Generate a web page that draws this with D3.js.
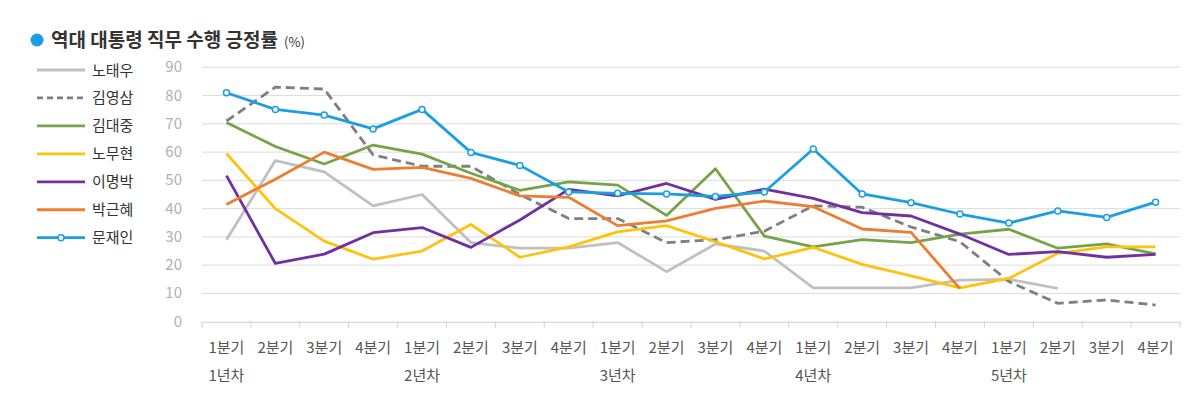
<!DOCTYPE html>
<html><head><meta charset="utf-8">
<script src="https://cdn.jsdelivr.net/npm/d3@7"></script>
<style>
body{margin:0;background:#fff;}
svg{display:block;font-family:"Noto Sans CJK KR","Noto Sans",sans-serif;}
</style></head>
<body><svg id="c" width="1200" height="406"></svg>
<script>
const quarters = ["1분기","2분기","3분기","4분기","1분기","2분기","3분기","4분기","1분기","2분기","3분기","4분기","1분기","2분기","3분기","4분기","1분기","2분기","3분기","4분기"];
const years = ["1년차","2년차","3년차","4년차","5년차"];
const yTicks = [0,10,20,30,40,50,60,70,80,90];
const names = ["노태우","김영삼","김대중","노무현","이명박","박근혜","문재인"];
const roh = [29,57,53,41,45,28,26,26,28,17.7,27.5,25,12,12,12,14.7,15,11.8];
const kimys = [71,83,82.3,59,55,55,45,36.5,36.5,28,29,32,41,40.5,33.5,28.3,14.2,6.5,7.7,5.9];
const kimdj = [70.5,62,55.8,62.5,59.3,52.5,46.5,49.5,48.3,37.6,54.1,30.3,26.5,29,28,31,32.7,26,27.5,24];
const rohmh = [59.5,40,28.5,22.1,25,34.4,22.8,26.5,31.8,34,28.3,22.2,26.3,20.3,16.2,12,15.3,24.2,26.5,26.5];
const leemb = [51.7,20.6,23.9,31.5,33.3,26.3,36,46.8,44.5,48.9,43.3,46.9,43.6,38.6,37.4,31,23.8,24.8,22.8,23.8];
const parkgh = [41.5,50.4,60,53.9,54.6,50.7,44.5,44,34,35.7,40.1,42.7,40.7,32.8,31.6,11.7];
const moon = [81,75.1,73.1,68.2,75.1,59.9,55.3,45.9,45.4,45.2,44.3,45.9,61.1,45.2,42.1,38.1,34.9,39.2,36.9,42.3];

const seriesData = [roh,kimys,kimdj,rohmh,leemb,parkgh,moon];
const colors = ["#c0c0c0","#7f7f7f","#77a348","#ffc20e","#7030a0","#ed7d31","#1b9fe3"];
const dashed = [false,true,false,false,false,false,false];

const svg = d3.select("#c");
const pLeft = 202, pRight = 1180, pTop = 67.3, pBottom = 321.7;
const x = d3.scaleBand().domain(d3.range(quarters.length)).range([pLeft,pRight]);
const y = d3.scaleLinear().domain([0,90]).range([pBottom,pTop]);

// title
svg.append("circle").attr("cx",37).attr("cy",40).attr("r",6.5).attr("fill","#1b9fe3");
const t = svg.append("text").attr("x",51).attr("y",47).attr("fill","#333").attr("font-size",19).attr("font-weight",600);
t.append("tspan").text("역대 대통령 직무 수행 긍정률");
t.append("tspan").attr("font-size",13).attr("font-weight",400).attr("dx",6).text("(%)");

// grid
svg.append("g").selectAll("line").data(yTicks.filter(d=>d>0)).join("line")
  .attr("x1",pLeft).attr("x2",pRight).attr("y1",d=>y(d)).attr("y2",d=>y(d))
  .attr("stroke","#dcdcdc").attr("stroke-width",1);

// y axis labels
svg.append("g").selectAll("text").data(yTicks).join("text")
  .attr("x",182).attr("y",d=>y(d)+5).attr("text-anchor","end")
  .attr("fill","#b0b0b0").attr("font-size",15).text(d=>d);

// x axis baseline + ticks
const xa = svg.append("g").attr("transform",`translate(0,${pBottom})`)
  .call(d3.axisBottom(x).tickSize(0).tickFormat(""));
xa.select(".domain").attr("stroke","#d0d0d0");
svg.append("g").selectAll("line").data(d3.range(quarters.length+1)).join("line")
  .attr("x1",d=>pLeft+d*x.step()).attr("x2",d=>pLeft+d*x.step())
  .attr("y1",pBottom).attr("y2",pBottom+6).attr("stroke","#d0d0d0");

svg.append("g").selectAll("text").data(quarters).join("text")
  .attr("x",(d,i)=>x(i)+x.bandwidth()/2).attr("y",353).attr("text-anchor","middle")
  .attr("fill","#555").attr("font-size",15).text(d=>d);
svg.append("g").selectAll("text").data(years).join("text")
  .attr("x",(d,i)=>x(i*4)+x.bandwidth()/2).attr("y",381).attr("text-anchor","middle")
  .attr("fill","#555").attr("font-size",15).text(d=>d);

// lines
const line = d3.line().x((d,i)=>x(i)+x.bandwidth()/2).y(d=>y(d));
seriesData.forEach((s,k)=>{
  svg.append("path").datum(s).attr("d",line).attr("fill","none")
    .attr("stroke",colors[k]).attr("stroke-width",2.8)
    .attr("stroke-linejoin","round")
    .attr("stroke-dasharray",dashed[k]?"9,5":null);
});
svg.append("g").selectAll("circle").data(moon).join("circle")
  .attr("cx",(d,i)=>x(i)+x.bandwidth()/2).attr("cy",d=>y(d)).attr("r",3)
  .attr("fill","#fff").attr("stroke",colors[6]).attr("stroke-width",1.5);

// legend
const lg = svg.append("g");
names.forEach((n,k)=>{
  const yy = 70 + k*27.95;
  lg.append("line").attr("x1",37).attr("x2",85).attr("y1",yy).attr("y2",yy)
    .attr("stroke",colors[k]).attr("stroke-width",2.8)
    .attr("stroke-dasharray",dashed[k]?"6,4":null);
  if(k===6) lg.append("circle").attr("cx",61).attr("cy",yy).attr("r",3)
    .attr("fill","#fff").attr("stroke",colors[6]).attr("stroke-width",1.5);
  lg.append("text").attr("x",92).attr("y",yy+5.5).attr("fill","#333").attr("font-size",15).text(n);
});
</script></body></html>
